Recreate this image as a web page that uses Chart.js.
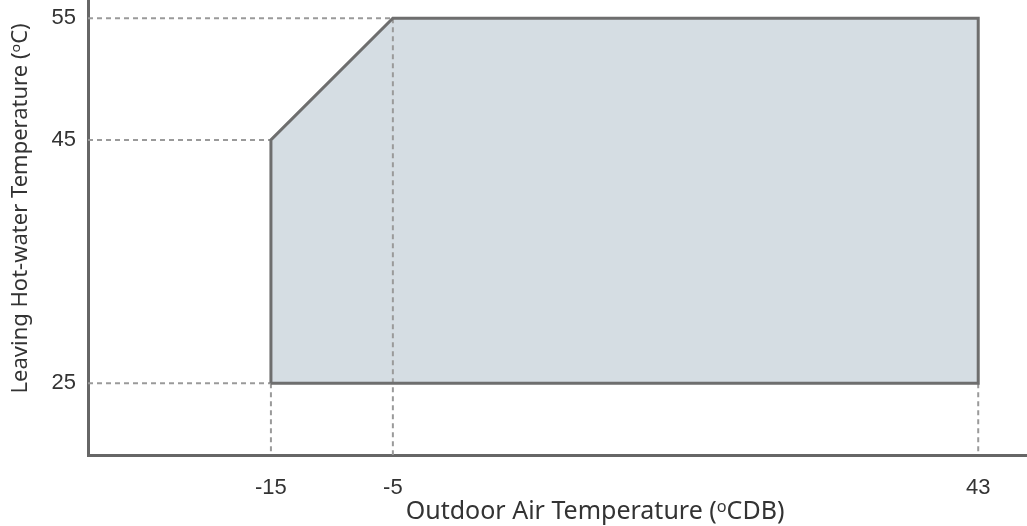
<!DOCTYPE html>
<html>
<head>
<meta charset="utf-8">
<script src="https://cdn.jsdelivr.net/npm/chart.js@4.4.1/dist/chart.umd.min.js"></script>
<style>
    html, body { margin: 0; padding: 0; background: #fff; }
    #wrap { width: 1027px; height: 526px; position: relative; }
</style>
</head>
<body>
<div id="wrap"><canvas id="envelope"></canvas></div>
<script>
// Operating range (outdoor air temp vs leaving hot-water temp)
const envelopeX = [-15, -15, -5, 43, 43, -15];
const envelopeY = [25, 45, 55, 55, 25, 25];

const xTicks = [-15, -5, 43];
const yTicks = [25, 45, 55];

const xMin = -30, xMax = 47;
const yMin = 19.1, yMax = 56.5;

// Dashed reference lines: [x1, y1, x2, y2]
const guideLines = [
    [xMin, 55, -5, 55],
    [xMin, 45, -15, 45],
    [xMin, 25, -15, 25],
    [-15, 25, -15, yMin],
    [-5, 55, -5, yMin],
    [43, 25, 43, yMin],
];

const xTitle = 'Outdoor Air Temperature (ᵒCDB)';
const yTitle = 'Leaving Hot-water Temperature (ᵒC)';

const lineColor = '#6e6e6e';
const axisColor = '#666666';
const dashColor = '#9a9a9a';
const fillColor = '#d5dde3';
const textColor = '#333333';

const points = envelopeX.map((x, i) => ({ x: x, y: envelopeY[i] }));

const datasets = [];

// outline on top
datasets.push({
    data: points,
    showLine: true,
    borderColor: lineColor,
    borderWidth: 3,
    pointRadius: 0,
    fill: false,
    tension: 0,
});

for (const g of guideLines) {
    datasets.push({
        data: [{ x: g[0], y: g[1] }, { x: g[2], y: g[3] }],
        showLine: true,
        borderColor: dashColor,
        borderWidth: 2,
        borderDash: [5, 4],
        pointRadius: 0,
        fill: false,
    });
}

// filled shape underneath
datasets.push({
    data: points,
    showLine: true,
    borderWidth: 0,
    borderColor: 'rgba(0,0,0,0)',
    backgroundColor: fillColor,
    pointRadius: 0,
    fill: 'shape',
});

// The axis titles in the original sit off-centre, so draw them here
const axisTitles = {
    id: 'axisTitles',
    afterDraw(chart) {
        const ctx = chart.ctx;
        const area = chart.chartArea;
        ctx.save();
        ctx.fillStyle = textColor;
        ctx.textAlign = 'center';

        ctx.font = '25px "Noto Sans"';
        ctx.textBaseline = 'alphabetic';
        ctx.fillText(xTitle, area.left + (area.right - area.left) * 0.54, chart.height - 7);

        ctx.font = '22px "Noto Sans"';
        ctx.textBaseline = 'middle';
        ctx.translate(21, area.top + (area.bottom - area.top) * 0.458);
        ctx.rotate(-Math.PI / 2);
        ctx.fillText(yTitle, 0, 0);
        ctx.restore();
    }
};

new Chart(document.getElementById('envelope'), {
    type: 'scatter',
    data: { datasets: datasets },
    plugins: [axisTitles],
    options: {
        responsive: true,
        maintainAspectRatio: false,
        animation: false,
        layout: { padding: 0 },
        plugins: {
            legend: { display: false },
            tooltip: { enabled: false },
        },
        scales: {
            x: {
                type: 'linear',
                min: xMin,
                max: xMax,
                afterBuildTicks: (scale) => { scale.ticks = xTicks.map(v => ({ value: v })); },
                afterFit: (scale) => {
                    scale.height = 71;
                    scale.paddingLeft = 0;
                    scale.paddingRight = 0;
                },
                grid: { display: false, drawTicks: false },
                border: { display: true, color: axisColor, width: 3 },
                ticks: {
                    autoSkip: false,
                    maxRotation: 0,
                    padding: 20,
                    color: textColor,
                    font: { family: 'Liberation Sans', size: 22 },
                },
            },
            y: {
                type: 'linear',
                min: yMin,
                max: yMax,
                afterBuildTicks: (scale) => { scale.ticks = yTicks.map(v => ({ value: v })); },
                afterFit: (scale) => {
                    scale.width = 88;
                    scale.paddingTop = 0;
                    scale.paddingBottom = 0;
                },
                grid: { display: false, drawTicks: false },
                border: { display: true, color: axisColor, width: 3 },
                ticks: {
                    autoSkip: false,
                    padding: 12,
                    color: textColor,
                    font: { family: 'Liberation Sans', size: 22 },
                },
            },
        },
    },
});
</script>
</body>
</html>
